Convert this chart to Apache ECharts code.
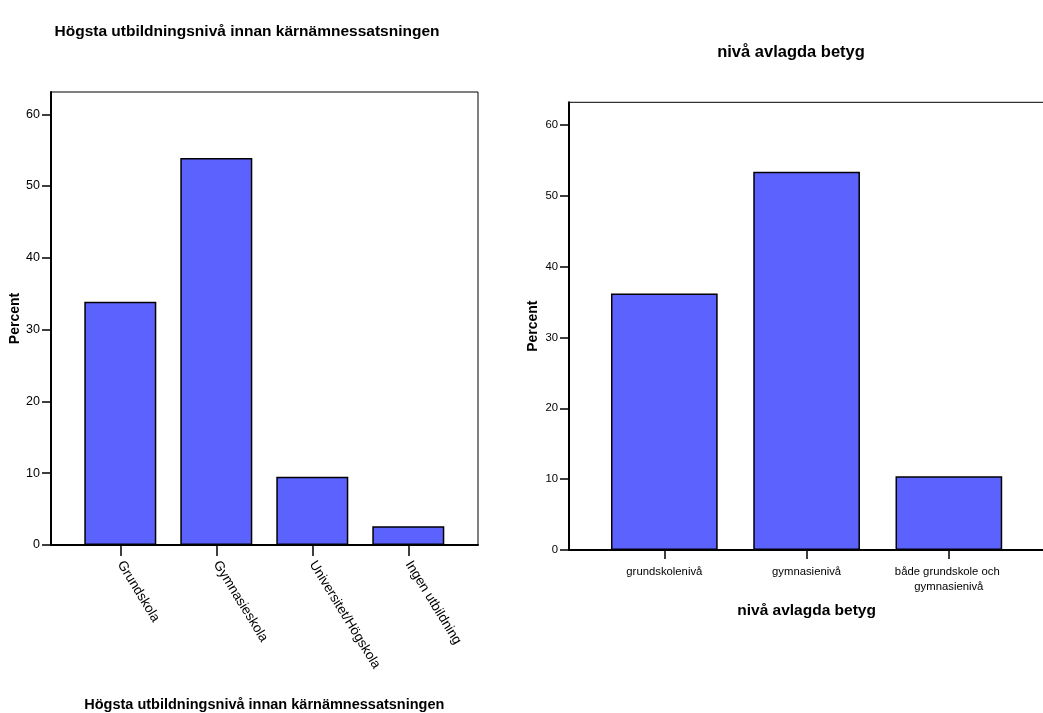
<!DOCTYPE html>
<html>
<head>
<meta charset="utf-8">
<script src="https://cdn.jsdelivr.net/npm/echarts@6/dist/echarts.min.js"></script>
<style>
html,body{margin:0;padding:0;background:#fff;}
#chart{width:1043px;height:713px;}
</style>
</head>
<body>
<div id="chart"></div>
<script>
// ---- data ----
const leftTitle = "Högsta utbildningsnivå innan kärnämnessatsningen";
const leftCategories = ["Grundskola", "Gymnasieskola", "Universitet/Högskola", "Ingen utbildning"];
const leftValues = [33.9, 53.9, 9.5, 2.6];

const rightTitle = "nivå avlagda betyg";
const rightCategories = ["grundskolenivå", "gymnasienivå", "både grundskole och gymnasienivå"];
const rightValues = [36.2, 53.4, 10.4];

const yAxisName = "Percent";
const yTicks = [0, 10, 20, 30, 40, 50, 60];

// ---- chart ----
const BAR = '#5c62fe';
const SANS = "'Liberation Sans', Arial, sans-serif";

const chart = echarts.init(document.getElementById('chart'), null, {renderer: 'canvas'});

const gridBase = {outerBoundsMode: 'none', containLabel: false};

const option = {
  backgroundColor: '#fff',
  animation: false,
  title: [
    {text: leftTitle, left: 242, top: 19, textAlign: 'center',
     textStyle: {fontFamily: SANS, fontSize: 15.5, fontWeight: 'bold', color: '#000'}},
    {text: rightTitle, left: 786, top: 39, textAlign: 'center',
     textStyle: {fontFamily: SANS, fontSize: 16.5, fontWeight: 'bold', color: '#000'}}
  ],
  grid: [
    Object.assign({left: 51, top: 92, width: 427, height: 453, show: true, borderColor: '#000', borderWidth: 1, backgroundColor: 'transparent'}, gridBase),
    Object.assign({left: 72.3, top: 92, width: 384, height: 453}, gridBase),
    Object.assign({left: 569, top: 102.3, width: 476, height: 447.7, show: true, borderColor: '#000', borderWidth: 1, backgroundColor: 'transparent'}, gridBase),
    Object.assign({left: 593.2, top: 102.3, width: 426.8, height: 447.7}, gridBase)
  ],
  xAxis: [
    {gridIndex: 0, type: 'value', min: 0, max: 1, show: true,
     axisLine: {show: true, onZero: false, lineStyle: {color: '#000', width: 2}},
     axisTick: {show: false}, axisLabel: {show: false}, splitLine: {show: false}},
    {gridIndex: 1, type: 'category', data: leftCategories,
     axisLine: {show: false},
     axisTick: {show: true, alignWithLabel: true, length: 11, lineStyle: {color: '#000', width: 1.5}},
     axisLabel: {rotate: -58.5, margin: 17, fontFamily: SANS, fontSize: 13.5, color: '#000', interval: 0},
     name: leftTitle, nameLocation: 'middle', nameGap: 152,
     nameTextStyle: {fontFamily: SANS, fontSize: 14.5, fontWeight: 'bold', color: '#000'}},
    {gridIndex: 2, type: 'value', min: 0, max: 1, show: true,
     axisLine: {show: true, onZero: false, lineStyle: {color: '#000', width: 2}},
     axisTick: {show: false}, axisLabel: {show: false}, splitLine: {show: false}},
    {gridIndex: 3, type: 'category', data: rightCategories,
     axisLine: {show: false},
     axisTick: {show: true, alignWithLabel: true, length: 9, lineStyle: {color: '#000', width: 1.5}},
     axisLabel: {margin: 14, fontFamily: SANS, fontSize: 11.3, color: '#000', interval: 0,
                 width: 115, overflow: 'break', lineHeight: 15},
     name: rightTitle, nameLocation: 'middle', nameGap: 53,
     nameTextStyle: {fontFamily: SANS, fontSize: 15.5, fontWeight: 'bold', color: '#000'}}
  ],
  yAxis: [
    {gridIndex: 0, type: 'value', min: 0, max: 63.1, interval: 10,
     axisLine: {show: true, lineStyle: {color: '#000', width: 2}},
     axisTick: {show: true, length: 9, customValues: yTicks, lineStyle: {color: '#000', width: 1.5}},
     axisLabel: {margin: 11, fontFamily: SANS, fontSize: 12.5, color: '#000', customValues: yTicks},
     splitLine: {show: false},
     name: yAxisName, nameLocation: 'middle', nameGap: 26,
     nameTextStyle: {fontFamily: SANS, fontSize: 14, fontWeight: 'bold', color: '#000'}},
    {gridIndex: 1, type: 'value', min: 0, max: 63.1, show: false},
    {gridIndex: 2, type: 'value', min: 0, max: 63.2, interval: 10,
     axisLine: {show: true, lineStyle: {color: '#000', width: 2}},
     axisTick: {show: true, length: 9, customValues: yTicks, lineStyle: {color: '#000', width: 1.5}},
     axisLabel: {margin: 11, fontFamily: SANS, fontSize: 11.3, color: '#000', customValues: yTicks},
     splitLine: {show: false},
     name: yAxisName, nameLocation: 'middle', nameGap: 29,
     nameTextStyle: {fontFamily: SANS, fontSize: 14, fontWeight: 'bold', color: '#000'}},
    {gridIndex: 3, type: 'value', min: 0, max: 63.2, show: false}
  ],
  series: [
    {type: 'bar', xAxisIndex: 1, yAxisIndex: 1, data: leftValues, barWidth: '75%',
     itemStyle: {color: BAR, borderColor: '#000', borderWidth: 1.5}},
    {type: 'bar', xAxisIndex: 3, yAxisIndex: 3, data: rightValues, barWidth: '75%',
     itemStyle: {color: BAR, borderColor: '#000', borderWidth: 1.5}}
  ]
};
chart.setOption(option);
</script>
</body>
</html>
